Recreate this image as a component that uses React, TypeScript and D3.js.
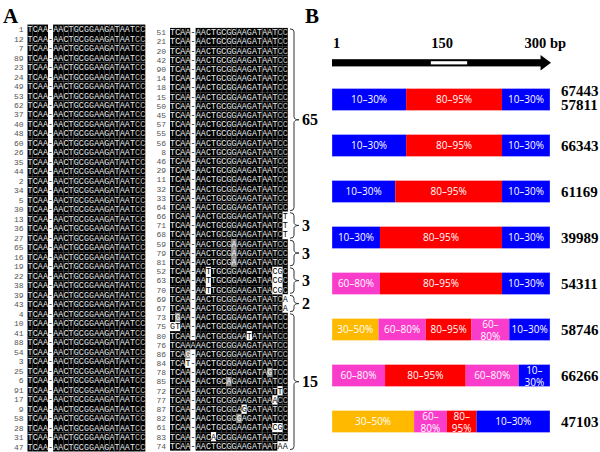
import React from "react";
import * as d3 from "d3";

// ---------- Panel A data ----------
const consensus = "TCAA-AACTGCGGAAGATAATCC";
const leftIds = [1, 12, 7, 89, 23, 24, 49, 53, 62, 37, 40, 48, 60, 26, 35, 44, 2, 34, 5, 30, 13, 36, 27, 65, 16, 19, 22, 38, 39, 43, 4, 10, 41, 88, 54, 3, 25, 6, 91, 17, 9, 58, 28, 31, 47];
const rightIds = [51, 21, 20, 42, 90, 14, 18, 15, 50, 45, 57, 55, 56, 8, 46, 29, 11, 32, 33, 64, 66, 71, 68, 59, 79, 81, 52, 63, 70, 69, 67, 73, 75, 80, 76, 86, 84, 78, 85, 72, 77, 87, 82, 61, 83, 74];
const variants = [
  { id: 66, pos: 22, base: "T", shade: "white" },
  { id: 71, pos: 22, base: "T", shade: "white" },
  { id: 68, pos: 22, base: "T", shade: "white" },
  { id: 59, pos: 12, base: "A", shade: "gray" },
  { id: 79, pos: 12, base: "A", shade: "gray" },
  { id: 81, pos: 12, base: "A", shade: "gray" },
  { id: 52, pos: 7, base: "T", shade: "white" },
  { id: 52, pos: 20, base: "C", shade: "white" },
  { id: 52, pos: 21, base: "G", shade: "white" },
  { id: 63, pos: 7, base: "T", shade: "white" },
  { id: 63, pos: 20, base: "C", shade: "white" },
  { id: 63, pos: 21, base: "G", shade: "white" },
  { id: 70, pos: 7, base: "T", shade: "white" },
  { id: 70, pos: 20, base: "C", shade: "white" },
  { id: 70, pos: 21, base: "G", shade: "white" },
  { id: 69, pos: 22, base: "A", shade: "white" },
  { id: 67, pos: 22, base: "A", shade: "white" },
  { id: 73, pos: 1, base: "G", shade: "gray" },
  { id: 75, pos: 0, base: "G", shade: "white" },
  { id: 75, pos: 1, base: "T", shade: "white" },
  { id: 80, pos: 15, base: "T", shade: "white" },
  { id: 76, pos: 4, base: "A", shade: "black" },
  { id: 86, pos: 3, base: "G", shade: "gray" },
  { id: 84, pos: 3, base: "T", shade: "white" },
  { id: 78, pos: 19, base: "G", shade: "gray" },
  { id: 85, pos: 11, base: "A", shade: "gray" },
  { id: 72, pos: 21, base: "T", shade: "white" },
  { id: 77, pos: 20, base: "A", shade: "white" },
  { id: 87, pos: 14, base: "G", shade: "white" },
  { id: 82, pos: 13, base: "G", shade: "gray" },
  { id: 61, pos: 20, base: "C", shade: "white" },
  { id: 61, pos: 21, base: "G", shade: "white" },
  { id: 83, pos: 8, base: "A", shade: "white" },
  { id: 74, pos: 21, base: "A", shade: "white" },
  { id: 74, pos: 22, base: "A", shade: "white" },
];
const groupSizes = [65, 3, 3, 3, 2, 15];

// ---------- Panel B data ----------
const axisTicks = [
  { bp: 0, label: "1", anchor: "start" },
  { bp: 150, label: "150", anchor: "middle" },
  { bp: 265, label: "300 bp", anchor: "start" },
];
const axisHighlight = [136, 186];
const contigIds = [["67443", "57811"], ["66343"], ["61169"], ["39989"], ["54311"], ["58746"], ["66266"], ["47103"]];
const segStarts = [
  [0, 102, 234],
  [0, 102, 234],
  [0, 87, 234],
  [0, 66, 234],
  [0, 66, 234],
  [0, 64, 129, 192, 244],
  [0, 73, 184, 257],
  [0, 113, 158, 199],
];
const segClasses = [
  ["10–30%", "80–95%", "10–30%"],
  ["10–30%", "80–95%", "10–30%"],
  ["10–30%", "80–95%", "10–30%"],
  ["10–30%", "80–95%", "10–30%"],
  ["60–80%", "80–95%", "10–30%"],
  ["30–50%", "60–80%", "80–95%", "60–80%", "10–30%"],
  ["60–80%", "80–95%", "60–80%", "10–30%"],
  ["30–50%", "60–80%", "80–95%", "10–30%"],
];
const classNames = ["10–30%", "30–50%", "60–80%", "80–95%"];
const classColors = ["#0000FF", "#FFBA00", "#FA3CCB", "#FF0000"];

const serif = "'Liberation Serif', 'Times New Roman', serif";
const mono = "'Liberation Mono', 'DejaVu Sans Mono', monospace";
const sans = "'Open Sans', 'Noto Sans', sans-serif";

function Alignment({ ids, x0, yFirst, yLast }: { ids: number[]; x0: number; yFirst: number; yLast: number }) {
  const cw = 5.12;
  const xc = d3.scaleLinear().domain([0, 1]).range([x0, x0 + cw]);
  const yr = d3.scaleLinear().domain([0, ids.length - 1]).range([yFirst, yLast]);
  const rh = (yLast - yFirst) / (ids.length - 1);
  const labelX = x0 - 4;
  return (
    <g>
      {ids.map((id, r) => {
        const yc = yr(r);
        return (
          <g key={id}>
            <text x={labelX} y={yc + 2.8} textAnchor="end" fontFamily={mono} fontSize={8} fill="#555">
              {id}
            </text>
            {consensus.split("").map((ch, c) => {
              const v = variants.find((d) => d.id === id && d.pos === c);
              let base = ch;
              let bg = ch === "-" ? "#ffffff" : "#000000";
              let fg = ch === "-" ? "#000" : c >= 21 ? "#b8b8b8" : "#eeeeee";
              if (v) {
                base = v.base;
                if (v.shade === "white") { bg = "#ffffff"; fg = "#000"; }
                else if (v.shade === "gray") { bg = "#8a8a8a"; fg = "#fff"; }
                else { bg = "#000"; fg = "#eee"; }
              }
              return (
                <g key={c}>
                  <rect x={xc(c)} y={yc - rh / 2} width={cw + 0.05} height={rh + 0.05} fill={bg} />
                  <text x={xc(c) + cw / 2} y={yc + 2.8} textAnchor="middle" fontFamily={mono} fontSize={8.3} fill={fg}>
                    {base}
                  </text>
                </g>
              );
            })}
          </g>
        );
      })}
      <line x1={xc(18)} x2={xc(18)} y1={yFirst - rh / 2} y2={yLast + rh / 2} stroke="#6a6a6a" strokeWidth={0.7} />
    </g>
  );
}

export default function App() {
  // Alignment geometry
  const rFirst = 32.5, rLast = 446;
  const yr = d3.scaleLinear().domain([0, rightIds.length - 1]).range([rFirst, rLast]);
  const rh = (rLast - rFirst) / (rightIds.length - 1);
  const groups: { label: string; start: number; end: number }[] = [];
  let cursor = 0;
  groupSizes.forEach((g, i) => {
    const n = i === 0 ? g - leftIds.length : g;
    groups.push({ label: String(g), start: cursor, end: cursor + n - 1 });
    cursor += n;
  });
  const bx = 294;

  // Panel B geometry
  const x = d3.scaleLinear().domain([0, 300]).range([332, 550]);
  const yb = d3.scaleLinear().domain([0, contigIds.length - 1]).range([88.5, 410.5]);
  const barH = 22;
  const color = d3.scaleOrdinal<string, string>().domain(classNames).range(classColors);
  const axisY = 62.8;

  return (
    <svg width={600} height={452} style={{ position: "absolute", left: 0, top: 0, background: "#fff" }}>
      <rect width={600} height={452} fill="#fff" />
      <text x={3} y={23} fontFamily={serif} fontWeight="bold" fontSize={21}>A</text>
      <text x={305} y={23} fontFamily={serif} fontWeight="bold" fontSize={21}>B</text>

      <Alignment ids={leftIds} x0={27.5} yFirst={29.3} yLast={446.7} />
      <Alignment ids={rightIds} x0={170} yFirst={rFirst} yLast={rLast} />

      {groups.map((g) => {
        const top = yr(g.start) - rh / 2 + 1;
        const bot = yr(g.end) + rh / 2 - 1;
        const mid = (top + bot) / 2;
        const p = d3.path();
        p.moveTo(bx - 4, top);
        p.quadraticCurveTo(bx, top, bx, top + 3);
        p.lineTo(bx, mid - 3);
        p.quadraticCurveTo(bx, mid, bx + 5, mid);
        p.quadraticCurveTo(bx, mid, bx, mid + 3);
        p.lineTo(bx, bot - 3);
        p.quadraticCurveTo(bx, bot, bx - 4, bot);
        return (
          <g key={g.start}>
            <path d={p.toString()} fill="none" stroke="#333" strokeWidth={1} />
            <text x={bx + 8} y={mid + 5.5} fontFamily={serif} fontWeight="bold" fontSize={16}>
              {g.label}
            </text>
          </g>
        );
      })}

      {/* Panel B axis */}
      {axisTicks.map((t) => (
        <text key={t.label} x={t.anchor === "middle" ? x(t.bp) + 1 : x(t.bp) + (t.bp === 0 ? 1 : 0)} y={48} textAnchor={t.anchor as any}
          fontFamily={serif} fontWeight="bold" fontSize={14.5}>
          {t.label}
        </text>
      ))}
      <rect x={x(0)} y={axisY - 3.6} width={x(290) - x(0)} height={7.2} fill="#000" />
      <path d={`M${x(287)},${axisY - 7.8} L${x(300) + 1},${axisY} L${x(287)},${axisY + 7.8} Z`} fill="#000" />
      <rect x={x(axisHighlight[0])} y={axisY - 1.6} width={x(axisHighlight[1]) - x(axisHighlight[0])} height={3.2} fill="#fff" />

      {contigIds.map((ids, i) => {
        const top = yb(i);
        const starts = segStarts[i];
        const yc = top + barH / 2;
        return (
          <g key={i}>
            {starts.map((s, j) => {
              const e = j + 1 < starts.length ? starts[j + 1] : 300;
              const cls = segClasses[i][j];
              const x0 = x(s), x1 = x(e);
              const w = x1 - x0;
              const cx = (x0 + x1) / 2;
              const parts = cls.split("–");
              return (
                <g key={j}>
                  <rect x={x0} y={top} width={w} height={barH} fill={color(cls)} />
                  {w < 40 ? (
                    <text textAnchor="middle" fontFamily={sans} fontSize={10} fill="#fff">
                      <tspan x={cx} y={yc - 1.5}>{parts[0] + "–"}</tspan>
                      <tspan x={cx} y={yc + 10}>{parts[1]}</tspan>
                    </text>
                  ) : (
                    <text x={cx} y={yc + 3.5} textAnchor="middle" fontFamily={sans} fontSize={10} fill="#fff">
                      {cls}
                    </text>
                  )}
                </g>
              );
            })}
            <rect x={x(0)} y={top} width={x(300) - x(0)} height={barH} fill="none" stroke="#ffffff" strokeOpacity={0.3} strokeWidth={1} />
            {ids.length === 1 ? (
              <text x={561} y={yc + 5} fontFamily={serif} fontWeight="bold" fontSize={15}>{ids[0]}</text>
            ) : (
              ids.map((t, k) => (
                <text key={t} x={561} y={yc - 4 + k * 14} fontFamily={serif} fontWeight="bold" fontSize={15}>{t}</text>
              ))
            )}
          </g>
        );
      })}
    </svg>
  );
}
